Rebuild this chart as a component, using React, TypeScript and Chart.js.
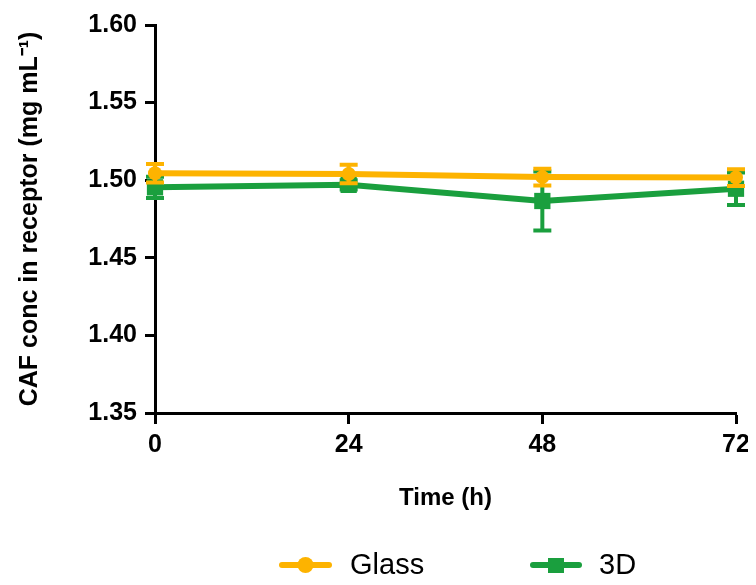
import { useEffect, useRef } from 'react';
import { Chart, registerables } from 'chart.js';

Chart.register(...registerables);

// ---- data ----
const timePoints = [0, 24, 48, 72];
const xTickValues = [0, 24, 48, 72];
const seriesLabels = ['Glass', '3D'];
const glassMean = [1.5045, 1.504, 1.502, 1.5017];
const glassErr = [0.006, 0.006, 0.0054, 0.0054];
const d3Mean = [1.4954, 1.497, 1.4866, 1.4945];
const d3Err = [0.0068, 0.003, 0.019, 0.0105];
const yTickValues = [1.35, 1.4, 1.45, 1.5, 1.55, 1.6];
const xTitle = 'Time (h)';
const yTitle = 'CAF conc in receptor (mg mL⁻¹)';

const ORANGE = '#FDB300';
const GREEN = '#1A9F3E';
const FONT = '"Liberation Sans", Arial, Helvetica, sans-serif';

const seriesErrors = [glassErr, d3Err];

const errorBarPlugin = {
  id: 'errorBars',
  beforeDatasetDraw(chart: any, args: any) {
    const idx = args.index;
    const errs = seriesErrors[idx];
    if (!errs) return;
    const ds = chart.data.datasets[idx];
    const meta = chart.getDatasetMeta(idx);
    const yScale = chart.scales.y;
    const ctx = chart.ctx;
    ctx.save();
    ctx.strokeStyle = ds.borderColor;
    ctx.lineWidth = 4;
    ctx.lineCap = 'butt';
    meta.data.forEach((pt: any, i: number) => {
      const v = ds.data[i].y;
      const e = errs[i];
      const yT = yScale.getPixelForValue(v + e);
      const yB = yScale.getPixelForValue(v - e);
      const x = pt.x;
      const cap = 9;
      ctx.beginPath();
      ctx.moveTo(x, yT);
      ctx.lineTo(x, yB);
      ctx.moveTo(x - cap, yT);
      ctx.lineTo(x + cap, yT);
      ctx.moveTo(x - cap, yB);
      ctx.lineTo(x + cap, yB);
      ctx.stroke();
    });
    ctx.restore();
  },
};

const legendPlugin = {
  id: 'customLegend',
  afterDraw(chart: any) {
    const ctx = chart.ctx;
    const y = 557;
    const items = [
      { x0: 274, x1: 321, tx: 342 },
      { x0: 525, x1: 571, tx: 591 },
    ];
    ctx.save();
    chart.data.datasets.forEach((ds: any, i: number) => {
      const it = items[i];
      if (!it) return;
      ctx.strokeStyle = ds.borderColor;
      ctx.fillStyle = ds.borderColor;
      ctx.lineWidth = 6;
      ctx.lineCap = 'round';
      ctx.beginPath();
      ctx.moveTo(it.x0, y);
      ctx.lineTo(it.x1, y);
      ctx.stroke();
      const cx = (it.x0 + it.x1) / 2;
      if (ds.pointStyle === 'rect') {
        ctx.fillRect(cx - 8, y - 7, 16, 15);
      } else {
        ctx.beginPath();
        ctx.arc(cx, y, 8, 0, Math.PI * 2);
        ctx.fill();
      }
      ctx.fillStyle = '#000';
      ctx.font = `29px ${FONT}`;
      ctx.textBaseline = 'middle';
      ctx.textAlign = 'left';
      ctx.fillText(ds.label, it.tx, y + 1);
    });
    ctx.restore();
  },
};

export default function App() {
  const canvasRef = useRef<HTMLCanvasElement | null>(null);

  useEffect(() => {
    const canvas = canvasRef.current;
    if (!canvas) return;
    const chart = new Chart(canvas, {
      type: 'line',
      data: {
        datasets: [
          {
            label: seriesLabels[0],
            data: timePoints.map((t, i) => ({ x: t, y: glassMean[i] })),
            borderColor: ORANGE,
            backgroundColor: ORANGE,
            borderWidth: 6,
            pointStyle: 'circle',
            pointRadius: 7,
            pointBorderWidth: 0,
            pointBackgroundColor: ORANGE,
            tension: 0,
            clip: false as any,
          },
          {
            label: seriesLabels[1],
            data: timePoints.map((t, i) => ({ x: t, y: d3Mean[i] })),
            borderColor: GREEN,
            backgroundColor: GREEN,
            borderWidth: 6,
            pointStyle: 'rect',
            pointRadius: 11.5,
            pointBorderWidth: 0,
            pointBackgroundColor: GREEN,
            tension: 0,
            clip: false as any,
          },
        ],
      },
      options: {
        animation: false,
        responsive: true,
        maintainAspectRatio: false,
        layout: { padding: { top: 17, right: 12, bottom: 54, left: 0 } },
        plugins: {
          legend: { display: false },
          tooltip: { enabled: false },
        },
        scales: {
          x: {
            type: 'linear',
            min: 0,
            max: 72,
            afterBuildTicks: (scale: any) => {
              scale.ticks = xTickValues.map((v) => ({ value: v }));
            },
            afterFit: (scale: any) => {
              scale.height = 110;
              scale.paddingLeft = 0;
              scale.paddingRight = 0;
            },
            grid: {
              drawOnChartArea: false,
              drawTicks: true,
              tickLength: 11,
              tickWidth: 3,
              color: '#000',
            },
            border: { display: true, color: '#000', width: 3 },
            ticks: {
              color: '#000',
              padding: 6,
              maxRotation: 0,
              font: { family: FONT, size: 25, weight: 'bold' },
            },
            title: {
              display: true,
              text: xTitle,
              color: '#000',
              font: { family: FONT, size: 24, weight: 'bold' },
              padding: { top: 0, bottom: 10 },
            },
          },
          y: {
            type: 'linear',
            min: yTickValues[0],
            max: yTickValues[yTickValues.length - 1],
            afterBuildTicks: (scale: any) => {
              scale.ticks = yTickValues.map((v) => ({ value: v }));
            },
            afterFit: (scale: any) => {
              scale.width = 147;
              scale.paddingTop = 0;
              scale.paddingBottom = 0;
            },
            grid: {
              drawOnChartArea: false,
              drawTicks: true,
              tickLength: 10,
              tickWidth: 3,
              color: '#000',
            },
            border: { display: true, color: '#000', width: 3 },
            ticks: {
              color: '#000',
              padding: 8,
              font: { family: FONT, size: 25, weight: 'bold' },
              callback: (v: any) => Number(v).toFixed(2),
            },
            title: {
              display: true,
              text: yTitle,
              color: '#000',
              font: { family: FONT, size: 25, weight: 'bold' },
              padding: { top: 7, bottom: 0 },
            },
          },
        },
      },
      plugins: [errorBarPlugin, legendPlugin],
    } as any);
    return () => chart.destroy();
  }, []);

  return (
    <div style={{ position: 'relative', width: 740, height: 569 }}>
      <canvas ref={canvasRef} />
    </div>
  );
}
